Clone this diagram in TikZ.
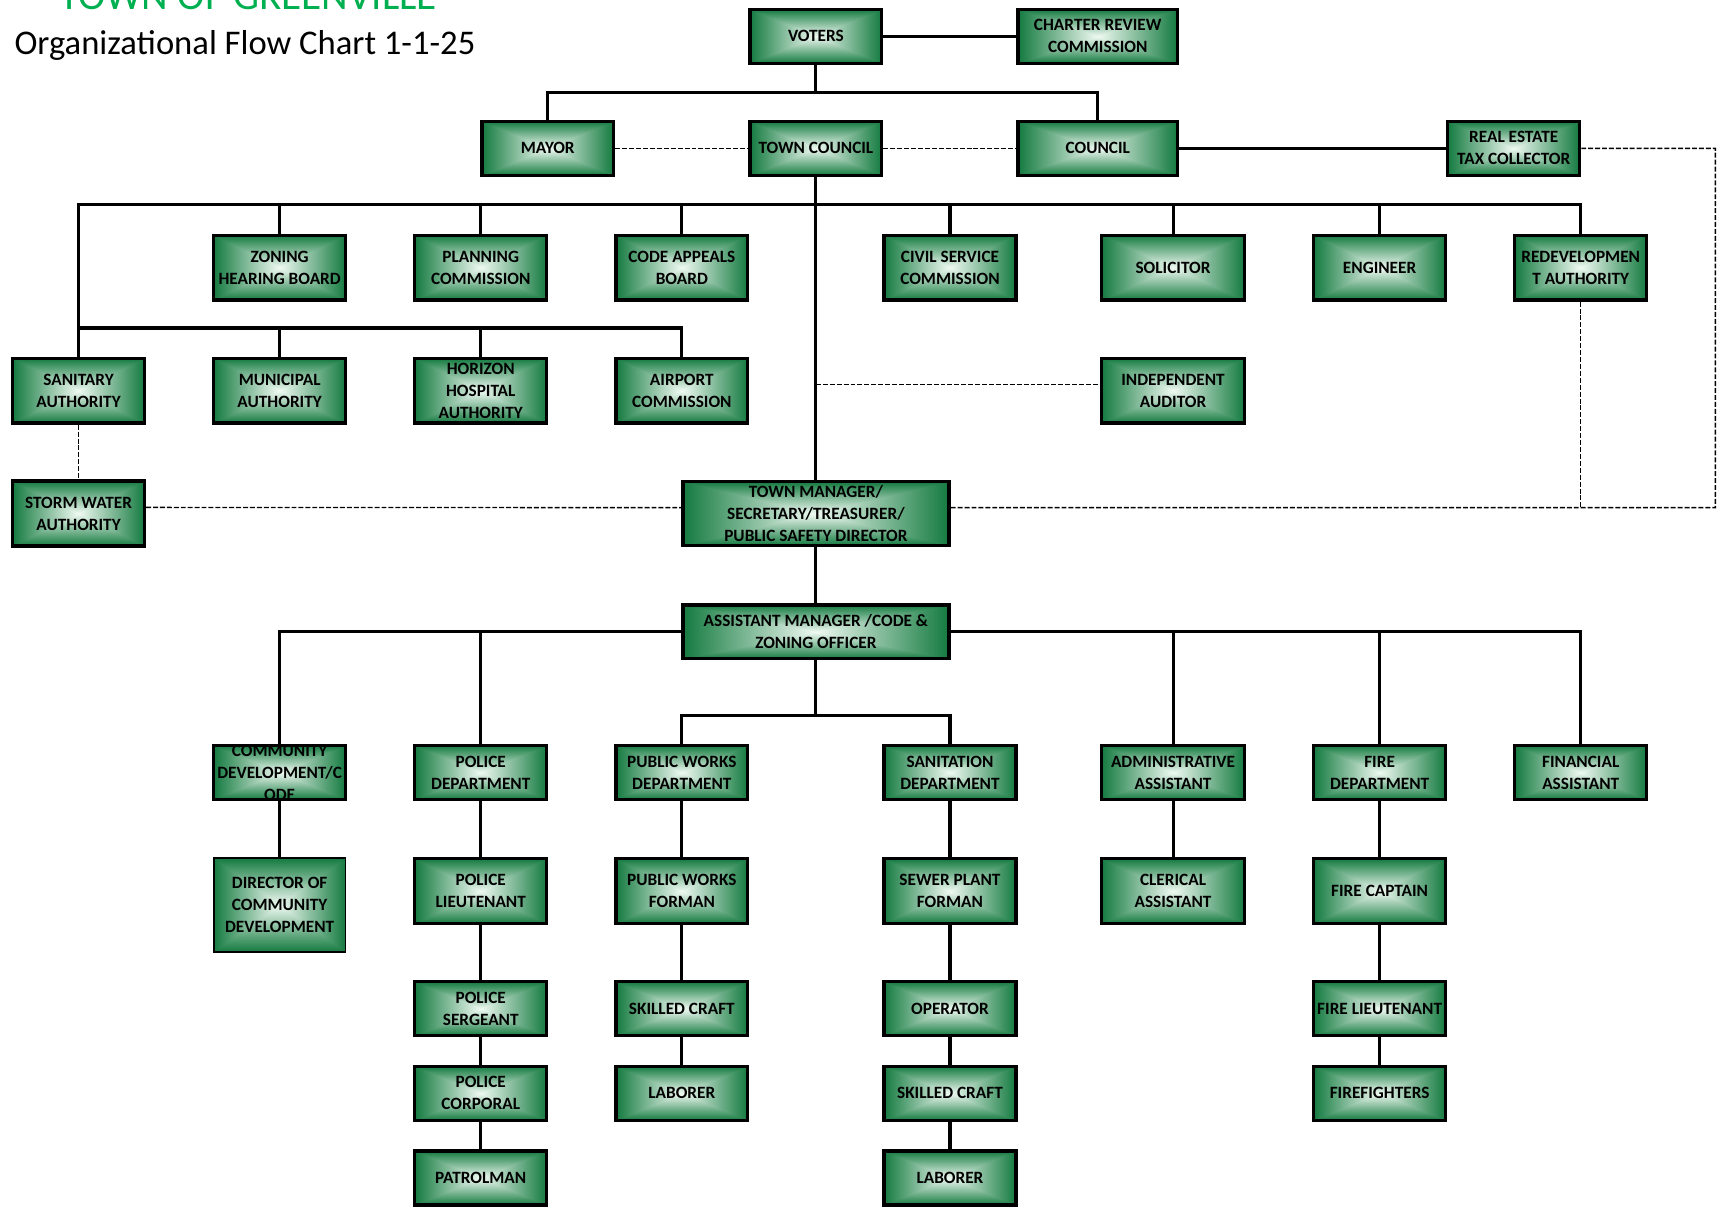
\documentclass[tikz,border=0pt]{standalone}
\usepackage{fontspec}
\setmainfont{Carlito}
\usetikzlibrary{calc}

\definecolor{titlegreen}{RGB}{0,176,80}
% light centre fading to a dark green rim
\pgfdeclarefunctionalshading{boxglow}{\pgfpoint{-50bp}{-50bp}}{\pgfpoint{50bp}{50bp}}{}{
  abs exch abs 2 copy lt {exch} if pop 25 div
  dup 1 gt {pop 1} if
  dup dup
  0.86 mul 0.94 exch sub
  3 1 roll
  0.50 mul 0.98 exch sub
  exch
  0.70 mul 0.95 exch sub
}

\begin{document}
\begin{tikzpicture}[x=1pt, y=-1pt, line join=miter,
    box/.style={draw, line width=3pt, shade, shading=boxglow,
      minimum width=120pt, minimum height=49pt, inner sep=1pt,
      align=center, font=\fontsize{15.7}{20}\selectfont\bfseries},
    tall/.style={minimum height=59pt},
    wide/.style={minimum width=145pt},
    mid/.style={minimum width=130pt},
    big/.style={minimum width=242pt},
    wire/.style={line width=2.8pt},
    soft/.style={line width=1.3pt, dash pattern=on 4.5pt off 1.8pt}]
  \useasboundingbox (0,0) rectangle (1568,1098);
  % --- heading -------------------------------------------------------
  \node[anchor=base, inner sep=0pt, text=titlegreen,
        font=\fontsize{37.5}{40}\selectfont] (title) at (226,8.5) {TOWN OF GREENVILLE};
  \node[anchor=base west, inner sep=0pt,
        font=\fontsize{31.5}{36}\selectfont] (subtitle) at (13,50) {Organizational Flow Chart 1-1-25};
  % --- voters and council -------------------------------------------
  \node[box] (voters) at (742.5,33) {VOTERS};
  \node[box, wide] (charter) at (999,33) {CHARTER REVIEW\\COMMISSION};
  \node[box] (mayor) at (498.5,135) {MAYOR};
  \node[box] (tcouncil) at (742.5,135) {TOWN COUNCIL};
  \node[box, wide] (council) at (999,135) {COUNCIL};
  \node[box] (retax) at (1377.5,135) {REAL ESTATE\\TAX COLLECTOR};
  % --- boards and commissions ---------------------------------------
  \node[box, tall] (zoning) at (254.5,243.5) {ZONING\\HEARING BOARD};
  \node[box, tall] (planning) at (437.5,243.5) {PLANNING\\COMMISSION};
  \node[box, tall] (appeals) at (620.5,243.5) {CODE APPEALS\\BOARD};
  \node[box, tall] (civil) at (864.5,243.5) {CIVIL SERVICE\\COMMISSION};
  \node[box, tall, mid] (solicitor) at (1067.5,243.5) {SOLICITOR};
  \node[box, tall] (engineer) at (1255.5,243.5) {ENGINEER};
  \node[box, tall] (redev) at (1438.5,243.5) {REDEVELOPMEN\\T AUTHORITY};
  \node[box, tall] (sanitary) at (71.5,355.5) {SANITARY\\AUTHORITY};
  \node[box, tall] (municipal) at (254.5,355.5) {MUNICIPAL\\AUTHORITY};
  \node[box, tall] (horizon) at (437.5,355.5) {HORIZON\\HOSPITAL\\AUTHORITY};
  \node[box, tall] (airport) at (620.5,355.5) {AIRPORT\\COMMISSION};
  \node[box, tall, mid] (auditor) at (1067.5,355.5) {INDEPENDENT\\AUDITOR};
  \node[box, tall] (storm) at (71.5,467.3) {STORM WATER\\AUTHORITY};
  % --- management -----------------------------------------------------
  \node[box, big, minimum height=58pt] (tm) at (742.5,467.4)
    {TOWN MANAGER/\\SECRETARY/TREASURER/\\PUBLIC SAFETY DIRECTOR};
  \node[box, big] (am) at (742.5,575) {ASSISTANT MANAGER /CODE \&\\ZONING OFFICER};
  % --- departments ----------------------------------------------------
  \node[box, inner ysep=-6pt] (commdev) at (254.5,703) {COMMUNITY\\DEVELOPMENT/C\\ODE};
  \node[box] (police) at (437.5,703) {POLICE\\DEPARTMENT};
  \node[box] (pworks) at (620.5,703) {PUBLIC WORKS\\DEPARTMENT};
  \node[box] (sanit) at (864.5,703) {SANITATION\\DEPARTMENT};
  \node[box, mid] (admin) at (1067.5,703) {ADMINISTRATIVE\\ASSISTANT};
  \node[box] (fire) at (1255.5,703) {FIRE\\DEPARTMENT};
  \node[box] (financial) at (1438.5,703) {FINANCIAL\\ASSISTANT};
  % staff below each department
  \node[box, line width=1.6pt, minimum height=85pt] (director) at (254.5,823.5)
    {DIRECTOR OF\\COMMUNITY\\DEVELOPMENT};
  \node[box, tall] (policelt) at (437.5,811) {POLICE\\LIEUTENANT};
  \node[box, tall] (pwforman) at (620.5,811) {PUBLIC WORKS\\FORMAN};
  \node[box, tall] (sewer) at (864.5,811) {SEWER PLANT\\FORMAN};
  \node[box, tall, mid] (clerical) at (1067.5,811) {CLERICAL\\ASSISTANT};
  \node[box, tall] (captain) at (1255.5,811) {FIRE CAPTAIN};
  \node[box] (sergeant) at (437.5,918) {POLICE\\SERGEANT};
  \node[box] (skilled) at (620.5,918) {SKILLED CRAFT};
  \node[box] (operator) at (864.5,918) {OPERATOR};
  \node[box] (firelt) at (1255.5,918) {FIRE LIEUTENANT};
  \node[box] (corporal) at (437.5,995) {POLICE\\CORPORAL};
  \node[box] (laborer) at (620.5,995) {LABORER};
  \node[box] (craft) at (864.5,995) {SKILLED CRAFT};
  \node[box] (fighters) at (1255.5,995) {FIREFIGHTERS};
  \node[box] (patrolman) at (437.5,1072) {PATROLMAN};
  \node[box] (laborerb) at (864.5,1072) {LABORER};
  % --- connectors: top --------------------------------------------------
  \coordinate (vbus) at (742.5,84);
  \draw[wire] (voters.east) -- (charter.west);
  \draw[wire] (voters.south) -- (vbus);
  \draw[wire] (mayor.north) |- (vbus) -| (council.north);
  \draw[soft] (mayor.east) -- (tcouncil.west);
  \draw[soft] (tcouncil.east) -- (council.west);
  \draw[wire] (council.east) -- (retax.west);
  \coordinate (loopcorner) at (1561,462);
  \draw[soft] (retax.east) -| (loopcorner) -- ([yshift=5.5pt]tm.east);
  \draw[soft] (redev.south) -- (redev.south |- loopcorner);
  % council bus and trunk
  \coordinate (cbus) at (742.5,186.5);
  \coordinate (abus) at (71.5,298.5);
  \draw[wire] (tcouncil.south) -- (tm.north);
  \draw[wire] (sanitary.north) |- (cbus) -| (redev.north);
  \foreach \n in {zoning,planning,appeals,civil,solicitor,engineer}
    \draw[wire] (\n.north) -- (\n.north |- cbus);
  \draw[wire] (abus) -| (airport.north);
  \foreach \n in {municipal,horizon}
    \draw[wire] (\n.north) -- (\n.north |- abus);
  \coordinate (audtap) at ($(tcouncil.south |- auditor.west)+(0,-5.5)$);
  \draw[soft] (audtap) -- ([yshift=5.5pt]auditor.west);
  \draw[soft] (sanitary.south) -- (storm.north);
  \draw[soft] ([yshift=5.5pt]storm.east) -- ([yshift=5.5pt]tm.west);
  % --- connectors: departments ------------------------------------------
  \draw[wire] (tm.south) -- (am.north);
  \draw[wire] (am.west) -| (commdev.north);
  \draw[wire] (am.east) -| (financial.north);
  \foreach \n in {police,admin,fire}
    \draw[wire] (\n.north) -- (\n.north |- am.west);
  \coordinate (wbus) at (742.5,651.5);
  \draw[wire] (am.south) -- (wbus);
  \draw[wire] (pworks.north) |- (wbus) -| (sanit.north);
  \foreach \a/\b in {commdev/director, police/policelt, policelt/sergeant,
      sergeant/corporal, corporal/patrolman, pworks/pwforman, pwforman/skilled,
      skilled/laborer, sanit/sewer, sewer/operator, operator/craft,
      craft/laborerb, admin/clerical, fire/captain, captain/firelt, firelt/fighters}
    \draw[wire] (\a.south) -- (\b.north);
\end{tikzpicture}
\end{document}
